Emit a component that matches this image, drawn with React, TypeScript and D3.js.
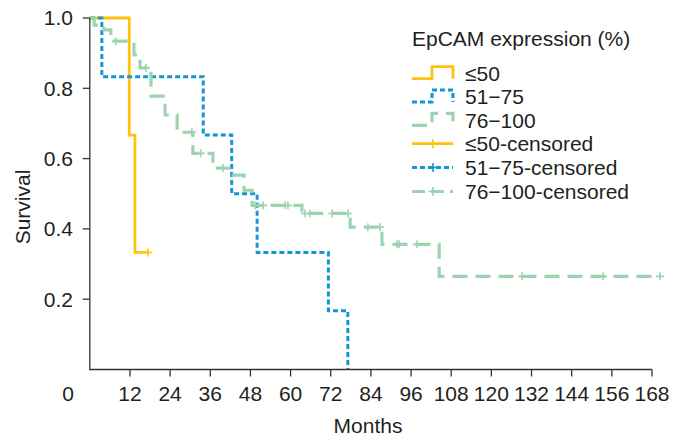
import React from "react";
import * as d3 from "d3";

// ---- data ----
const xTicks = [12, 24, 36, 48, 60, 72, 84, 96, 108, 120, 132, 144, 156, 168];
const yTicks = [0.2, 0.4, 0.6, 0.8, 1.0];
const yTickLabels = ["0.2", "0.4", "0.6", "0.8", "1.0"];

const groupNames = ["≤50", "51−75", "76−100"];
const censoredNames = ["≤50-censored", "51−75-censored", "76−100-censored"];

// ≤50
const lowTimes = [0, 11.8, 13.5, 17.4];
const lowSurv = [1, 0.667, 0.333, 0.333];
const lowCensor = [17.4];

// 51−75
const midTimes = [0, 3.6, 33.9, 42.4, 50.0, 71.3, 77.1];
const midSurv = [1, 0.833, 0.667, 0.5, 0.333, 0.167, 0];
const midCensor: number[] = [];

// 76−100
const highTimes = [0, 1.3, 4.2, 6.3, 13.2, 15.0, 18.3, 22.5, 26.1, 30.8, 36.8, 41.6, 46.1, 48.5, 63.4, 77.8, 87.3, 104.4, 170.4];
const highSurv = [1, 0.98, 0.966, 0.934, 0.895, 0.858, 0.778, 0.724, 0.675, 0.615, 0.573, 0.553, 0.51, 0.467, 0.444, 0.405, 0.356, 0.265, 0.265];
const highCensor = [7.8, 16.8, 30.5, 33.2, 39.8, 49.4, 51.8, 58.3, 59.2, 64.3, 65.8, 72.4, 77.2, 83.1, 86.7, 91.8, 92.4, 97.8, 129.2, 153.4, 170.4];

const colors = ["#FFC20E", "#1396D8", "#9CD4B0"];
const dashes = [undefined, "5,3", "15,8"];
const widths = [2.8, 3, 3.2];

const W = 676;
const H = 436;
const FONT = "'Liberation Sans', Arial, Helvetica, sans-serif";
const TXT = "#231F20";
const FS = 21;

const x = d3.scaleLinear().domain([0, 168]).range([89.8, 652]);
const y = d3.scaleLinear().domain([0, 1]).range([369.5, 18]);

const series = [
  { t: lowTimes, s: lowSurv, c: lowCensor },
  { t: midTimes, s: midSurv, c: midCensor },
  { t: highTimes, s: highSurv, c: highCensor },
];

function survAt(t: number[], s: number[], tt: number) {
  let v = s[0];
  for (let i = 0; i < t.length; i++) if (t[i] <= tt) v = s[i];
  return v;
}

const stepLine = d3
  .line<[number, number]>()
  .x((d) => x(d[0]))
  .y((d) => y(d[1]))
  .curve(d3.curveStepAfter);

function plus(cx: number, cy: number, r = 4) {
  return `M${cx},${cy - r}V${cy + r}M${cx - r},${cy}H${cx + r}`;
}

export default function App() {
  const order = [0, 1, 2];
  const legendX = 412;
  const legendTextX = 465;
  const rowCenters = [73.7, 97, 120.3, 143.7, 167.5, 191.5];

  return (
    <svg
      width={W}
      height={H}
      style={{ position: "absolute", left: 0, top: 0, display: "block", background: "#fff" }}
      fontFamily={FONT}
    >
      {/* curves */}
      {order.map((i) => {
        const sr = series[i];
        const pts: [number, number][] = sr.t.map((t, k) => [t, sr.s[k]]);
        return (
          <g key={i}>
            <path
              d={stepLine(pts) || ""}
              fill="none"
              stroke={colors[i]}
              strokeWidth={widths[i]}
              strokeDasharray={dashes[i]}
            />
            {sr.c.map((ct, k) => (
              <path
                key={k}
                d={plus(x(ct), y(survAt(sr.t, sr.s, ct)))}
                stroke={colors[i]}
                strokeWidth={1.6}
                fill="none"
              />
            ))}
          </g>
        );
      })}

      {/* axes */}
      <g stroke="#333" strokeWidth={1.3} fill="none">
        <path d={`M${x(0)},${y(1)}V${y(0)}H${x(168)}`} />
        {yTicks.map((v) => (
          <path key={v} d={`M${x(0) - 7},${y(v)}H${x(0)}`} />
        ))}
        {xTicks.map((v) => (
          <path key={v} d={`M${x(v)},${y(0)}V${y(0) + 7}`} />
        ))}
      </g>
      <g fill={TXT} fontSize={FS}>
        {yTicks.map((v, k) => (
          <text key={v} x={73} y={y(v)} dy="0.35em" textAnchor="end">
            {yTickLabels[k]}
          </text>
        ))}
        {xTicks.map((v) => (
          <text key={v} x={x(v)} y={401} textAnchor="middle">
            {v}
          </text>
        ))}
        <text x={68} y={401} textAnchor="middle">0</text>
        <text x={368} y={433} textAnchor="middle">Months</text>
        <text transform={`translate(30,207) rotate(-90)`} textAnchor="middle">Survival</text>
      </g>

      {/* legend */}
      <g>
        <text x={legendX} y={46} fontSize={FS} fill={TXT}>EpCAM expression (%)</text>
        {groupNames.map((n, i) => {
          const cy = rowCenters[i];
          return (
            <g key={n}>
              <path
                d={`M${legendX},${cy + 5}H${legendX + 20}V${cy - 7}H${legendX + 41}V${cy + 5}`}
                fill="none"
                stroke={colors[i]}
                strokeWidth={widths[i]}
                strokeDasharray={dashes[i]}
              />
              <text x={legendTextX} y={cy} dy="0.35em" fontSize={FS} fill={TXT}>{n}</text>
            </g>
          );
        })}
        {censoredNames.map((n, i) => {
          const cy = rowCenters[i + 3];
          return (
            <g key={n}>
              <path
                d={`M${legendX},${cy}H${legendX + 41}`}
                fill="none"
                stroke={colors[i]}
                strokeWidth={widths[i]}
                strokeDasharray={dashes[i] ? (i === 1 ? "5,3" : "13,6") : undefined}
              />
              <path d={plus(legendX + 21, cy, 4.5)} stroke={colors[i]} strokeWidth={1.6} fill="none" />
              <text x={legendTextX} y={cy} dy="0.35em" fontSize={FS} fill={TXT}>{n}</text>
            </g>
          );
        })}
      </g>
    </svg>
  );
}
